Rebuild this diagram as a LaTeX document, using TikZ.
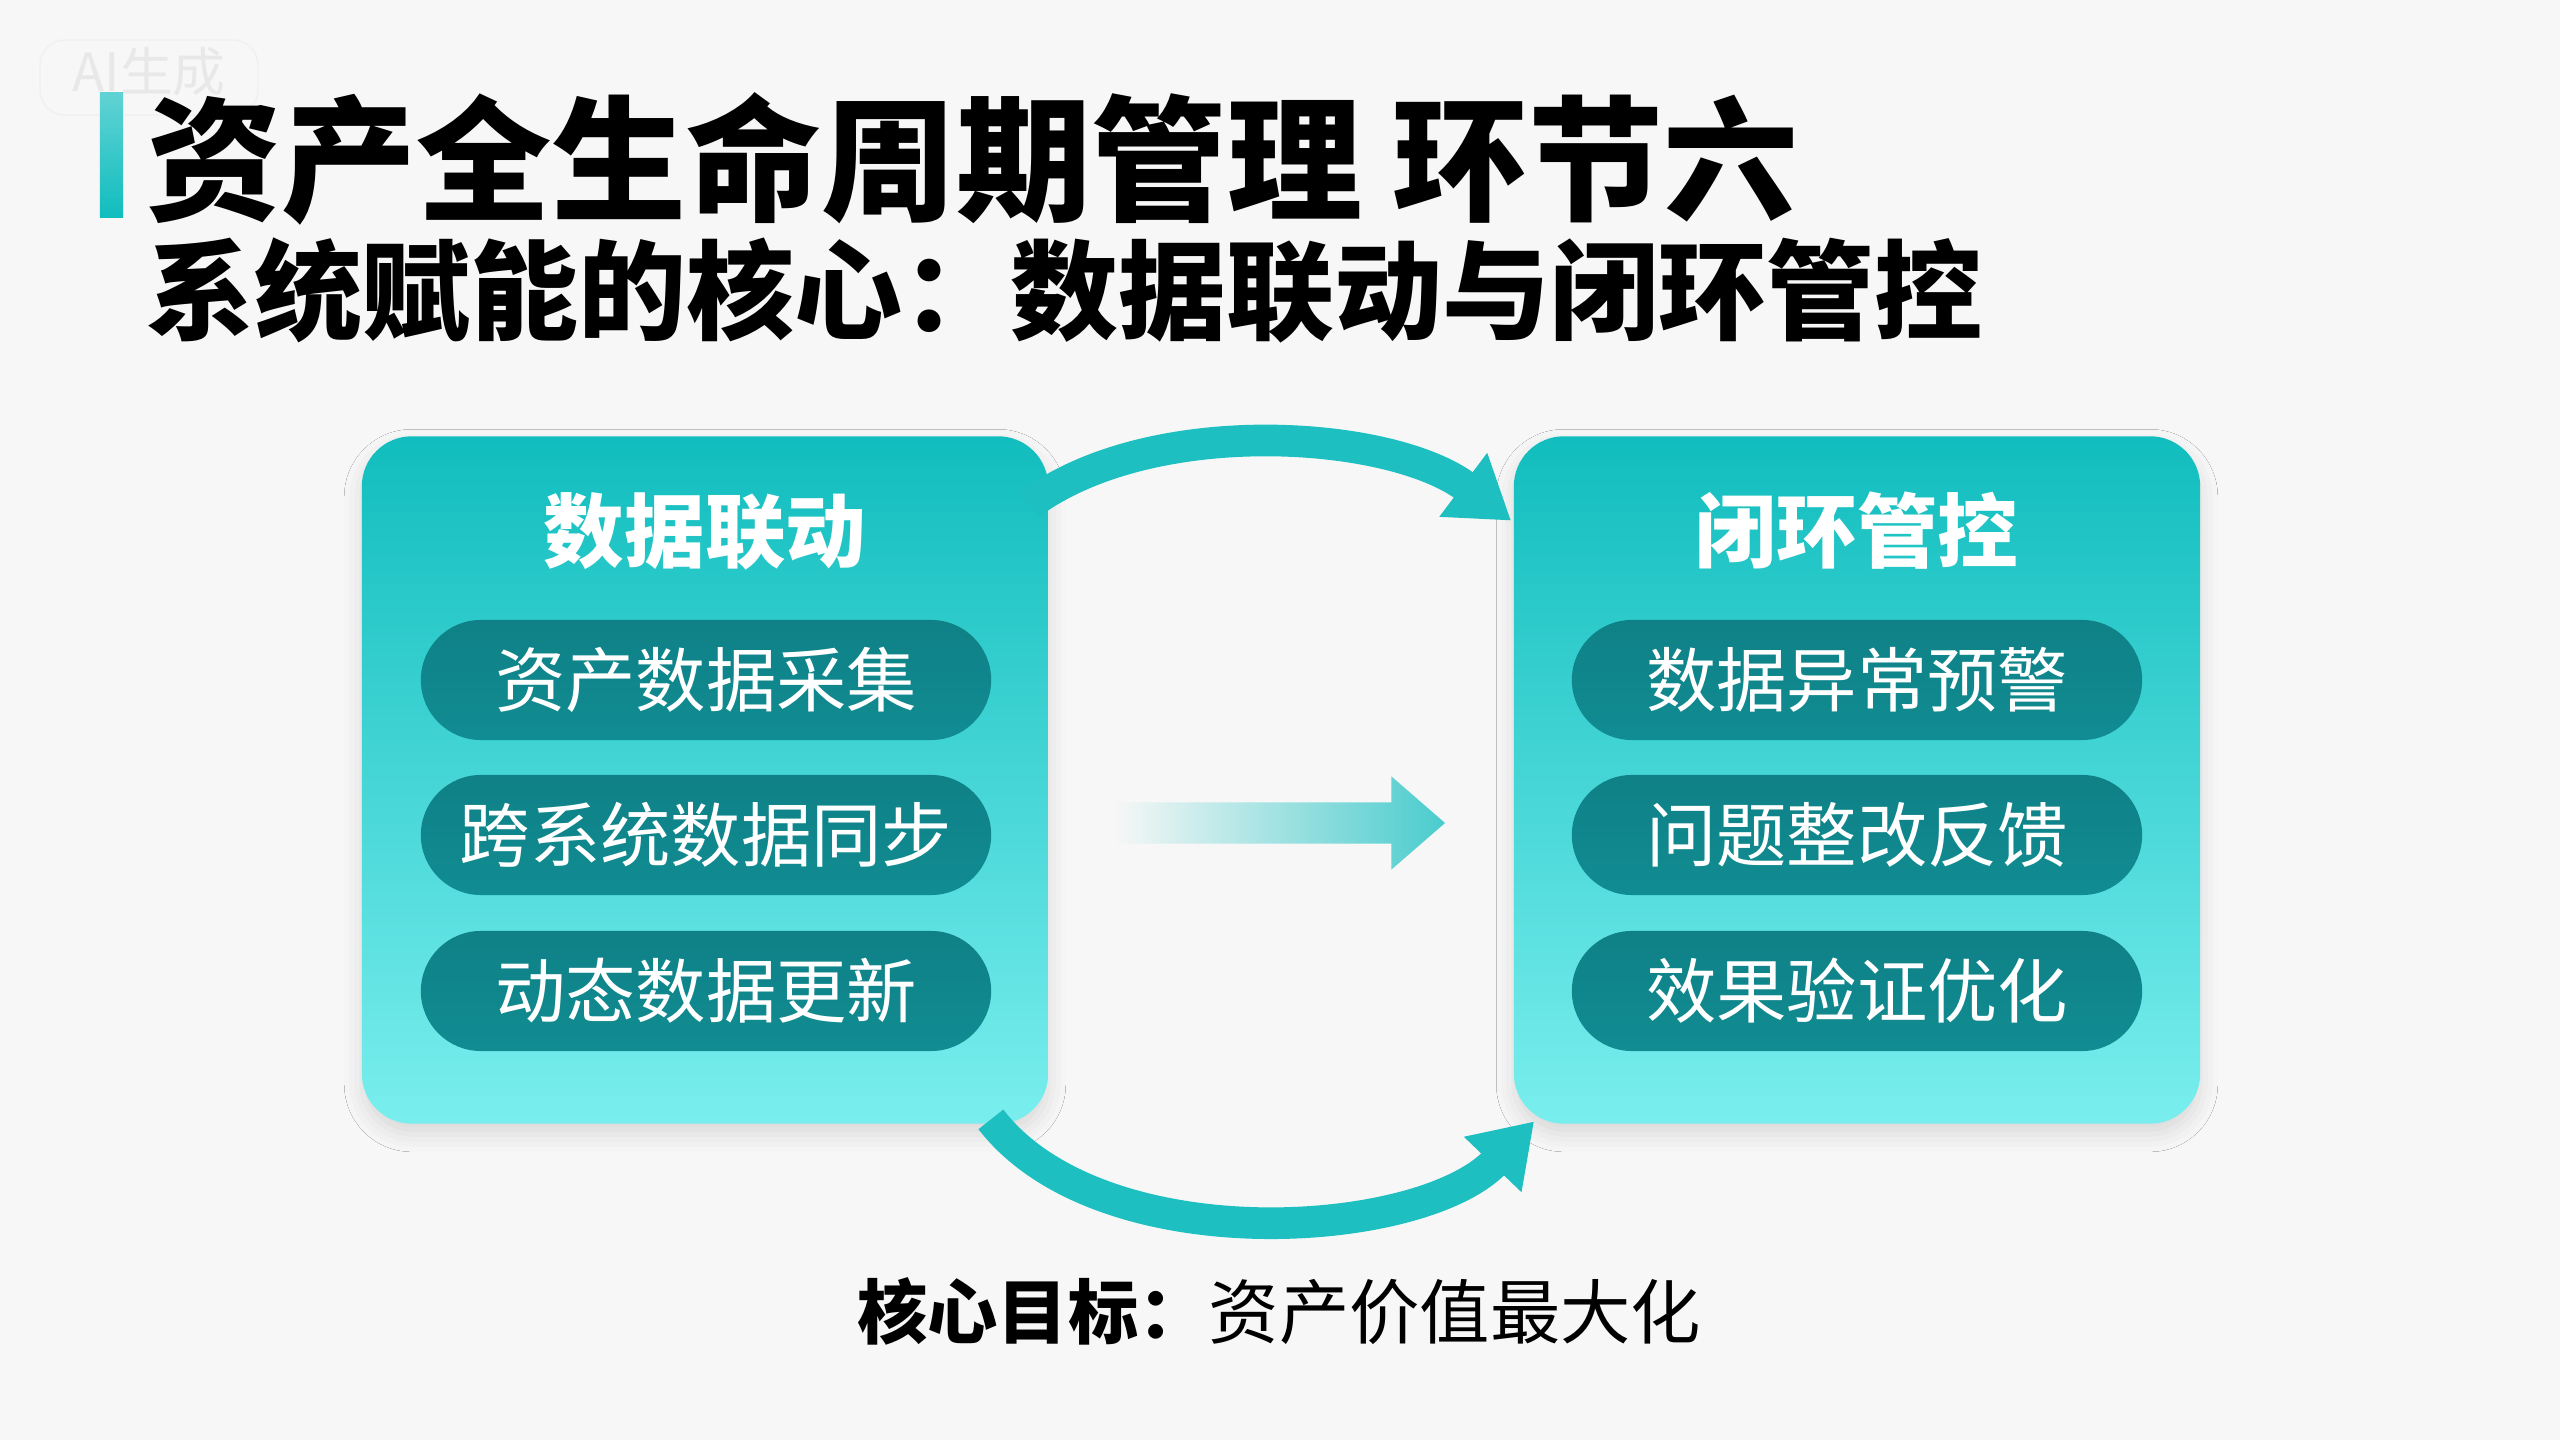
\documentclass[tikz,border=0pt]{standalone}
\usepackage{fontspec}
\setmainfont{Noto Sans CJK SC}
\usepackage{tikz}
\usetikzlibrary{arrows.meta,shapes.arrows,shadows.blur}
\definecolor{bgc}{HTML}{F6F7F6}
\definecolor{tealtop}{HTML}{11BDBE}
\definecolor{tealbot}{HTML}{7AEEEE}
\definecolor{pillc}{HTML}{108C92}
\definecolor{arcc}{HTML}{1DBFC1}

\begin{document}
\begin{tikzpicture}[x=.01cm, y=-.01cm,
  bigbox/.style={minimum width=6.86cm, minimum height=6.87cm, rounded corners=.5cm, inner sep=0pt,
    top color=tealtop, bottom color=tealbot,
    blur shadow={shadow xshift=0pt, shadow yshift=-3pt, shadow blur radius=5pt, shadow opacity=12}},
  boxhead/.style={text=white, font=\fontsize{22.9pt}{24pt}\selectfont\bfseries},
  pill/.style={minimum width=5.7cm, minimum height=1.2cm, rounded corners=.6cm, inner sep=0pt,
    top color=pillc!92!black, bottom color=pillc, text=white, font=\fontsize{20pt}{22pt}\selectfont},
  cyclearrow/.style={draw=arcc, line width=9pt, -{Triangle[length=17pt, width=21.5pt]}}]
  \fill[bgc] (0,0) rectangle (2560,1440);
  \draw[black!6, rounded corners=.25cm] (40,40) rectangle (258,115);
  \node[inner sep=0pt, text=black!9, font=\fontsize{15pt}{16pt}\selectfont] (mark) at (149,72) {AI生成};
  \node[minimum width=.23cm, minimum height=1.24cm, inner sep=0pt, top color=arcc!70!white, bottom color=tealtop] (bar) at (111.5,155) {};
  \node[anchor=west, inner sep=0pt, font=\fontsize{38.4pt}{40pt}\selectfont\bfseries] (title) at (146,159) {资产全生命周期管理 环节六};
  \node[anchor=west, inner sep=0pt, font=\fontsize{30.7pt}{32pt}\selectfont\bfseries] (subtitle) at (146,290) {系统赋能的核心：数据联动与闭环管控};
  \node[bigbox] (link) at (705,780) {};
  \node[bigbox] (ctrl) at (1857,780) {};
  \draw[cyclearrow] ([xshift=-.2cm, yshift=-.69cm]link.north east) .. controls (1150,414) and (1390,430) .. ([xshift=-.02cm, yshift=-.85cm]ctrl.north west);
  \draw[cyclearrow] ([xshift=-.58cm, yshift=.05cm]link.south east) .. controls (1100,1261) and (1420,1240) .. ([xshift=.21cm, yshift=.03cm]ctrl.south west);
  \node[boxhead] (linkhead) at (705,531) {数据联动};
  \node[boxhead] (ctrlhead) at (1857,531) {闭环管控};
  \foreach \i/\y/\a/\b in {1/680/资产数据采集/数据异常预警, 2/835/跨系统数据同步/问题整改反馈, 3/991/动态数据更新/效果验证优化}{
    \node[pill] (lp\i) at (706,\y) {\a};
    \node[pill] (rp\i) at (1857,\y) {\b};
  }
  \node[single arrow, minimum height=3.3cm, inner sep=.2cm, single arrow head extend=.26cm, single arrow tip angle=82,
    left color=bgc, right color=arcc!80!white] (flow) at (1268,823) {};
  \node[font=\fontsize{20pt}{22pt}\selectfont] (goal) at (1279,1311) {\textbf{核心目标：}资产价值最大化};
\end{tikzpicture}
\end{document}
